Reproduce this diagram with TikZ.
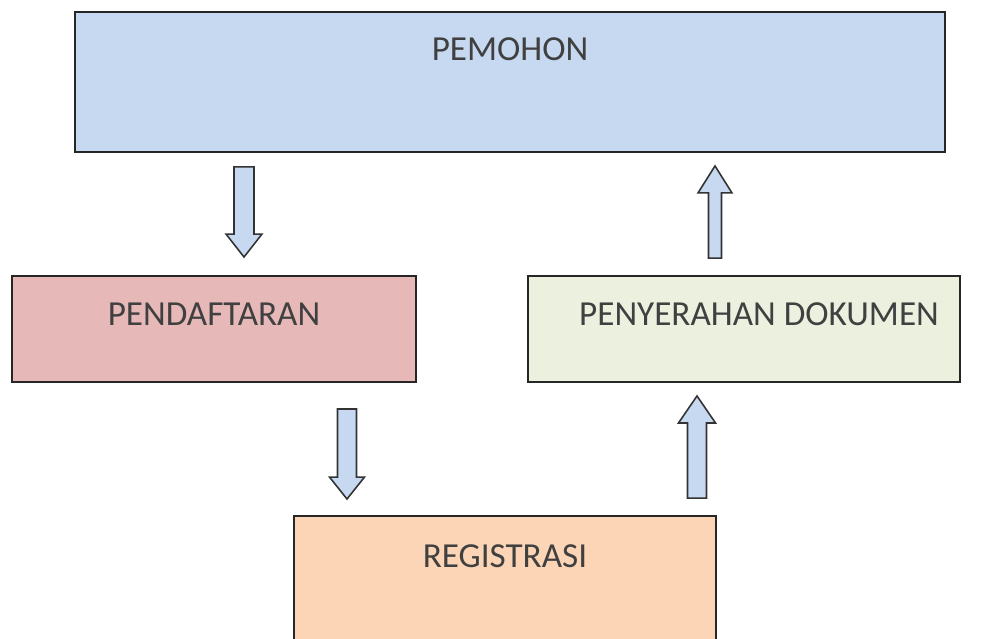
\documentclass[tikz,border=0pt]{standalone}
\usepackage{fontspec}
\setmainfont{Carlito}
\usetikzlibrary{calc}

\definecolor{pemohonblue}{HTML}{C6D9F0}
\definecolor{daftarpink}{HTML}{E6B9B8}
\definecolor{serahgreen}{HTML}{EBF1DE}
\definecolor{regpeach}{HTML}{FBD5B5}
\definecolor{textgray}{HTML}{404040}

\tikzset{
  box/.style={draw=black!85, line width=1.1pt, inner sep=0pt},
  lbl/.style={text=textgray, font=\fontsize{20}{24}\selectfont},
  blockarrow/.style={draw=black!80, fill=pemohonblue, line width=0.9pt, line join=miter}
}

% tail, tip, shaft half width, head half width, head offset
\newcommand{\blockarrow}[5]{%
  \filldraw[blockarrow] ($(#1)+(-#3,0)$) -- ($(#2)+(-#3,#5)$) -- ($(#2)+(-#4,#5)$)
    -- (#2) -- ($(#2)+(#4,#5)$) -- ($(#2)+(#3,#5)$) -- ($(#1)+(#3,0)$) -- cycle;}

\begin{document}
\begin{tikzpicture}[x=0.02cm, y=-0.02cm]
\clip (0,0) rectangle (984,639);

% boxes
\node[box, fill=pemohonblue, minimum width=17.4cm, minimum height=2.8cm] (pemohon) at (510,82) {};
\node[box, fill=daftarpink, minimum width=8.08cm, minimum height=2.12cm] (pendaftaran) at (214,329) {};
\node[box, fill=serahgreen, minimum width=8.64cm, minimum height=2.12cm] (penyerahan) at (744,329) {};
\node[box, fill=regpeach, minimum width=8.44cm, minimum height=2.8cm] (registrasi) at (505,586) {};

% labels
\node[lbl] (pemohon-t) at ($(pemohon.north)+(0,38)$) {PEMOHON};
\node[lbl] (pendaftaran-t) at ($(pendaftaran.center)+(0,-15)$) {PENDAFTARAN};
\node[lbl] (penyerahan-t) at ($(penyerahan.center)+(15,-15)$) {PENYERAHAN DOKUMEN};
\node[lbl] (registrasi-t) at ($(registrasi.north)+(0,41)$) {REGISTRASI};

% block arrows
\blockarrow{$(pemohon.south)+(-266,14)$}{$(pendaftaran.north)+(30,-18)$}{10}{18}{-23}
\blockarrow{$(pendaftaran.south)+(133,26)$}{$(registrasi.north)+(-158,-16)$}{9.5}{17.5}{-22}
\blockarrow{$(registrasi.north)+(192,-17)$}{$(penyerahan.south)+(-47,13)$}{9.5}{18.5}{27}
\blockarrow{$(penyerahan.north)+(-29,-17)$}{$(pemohon.south)+(205,13)$}{6.5}{17}{27}
\end{tikzpicture}
\end{document}
